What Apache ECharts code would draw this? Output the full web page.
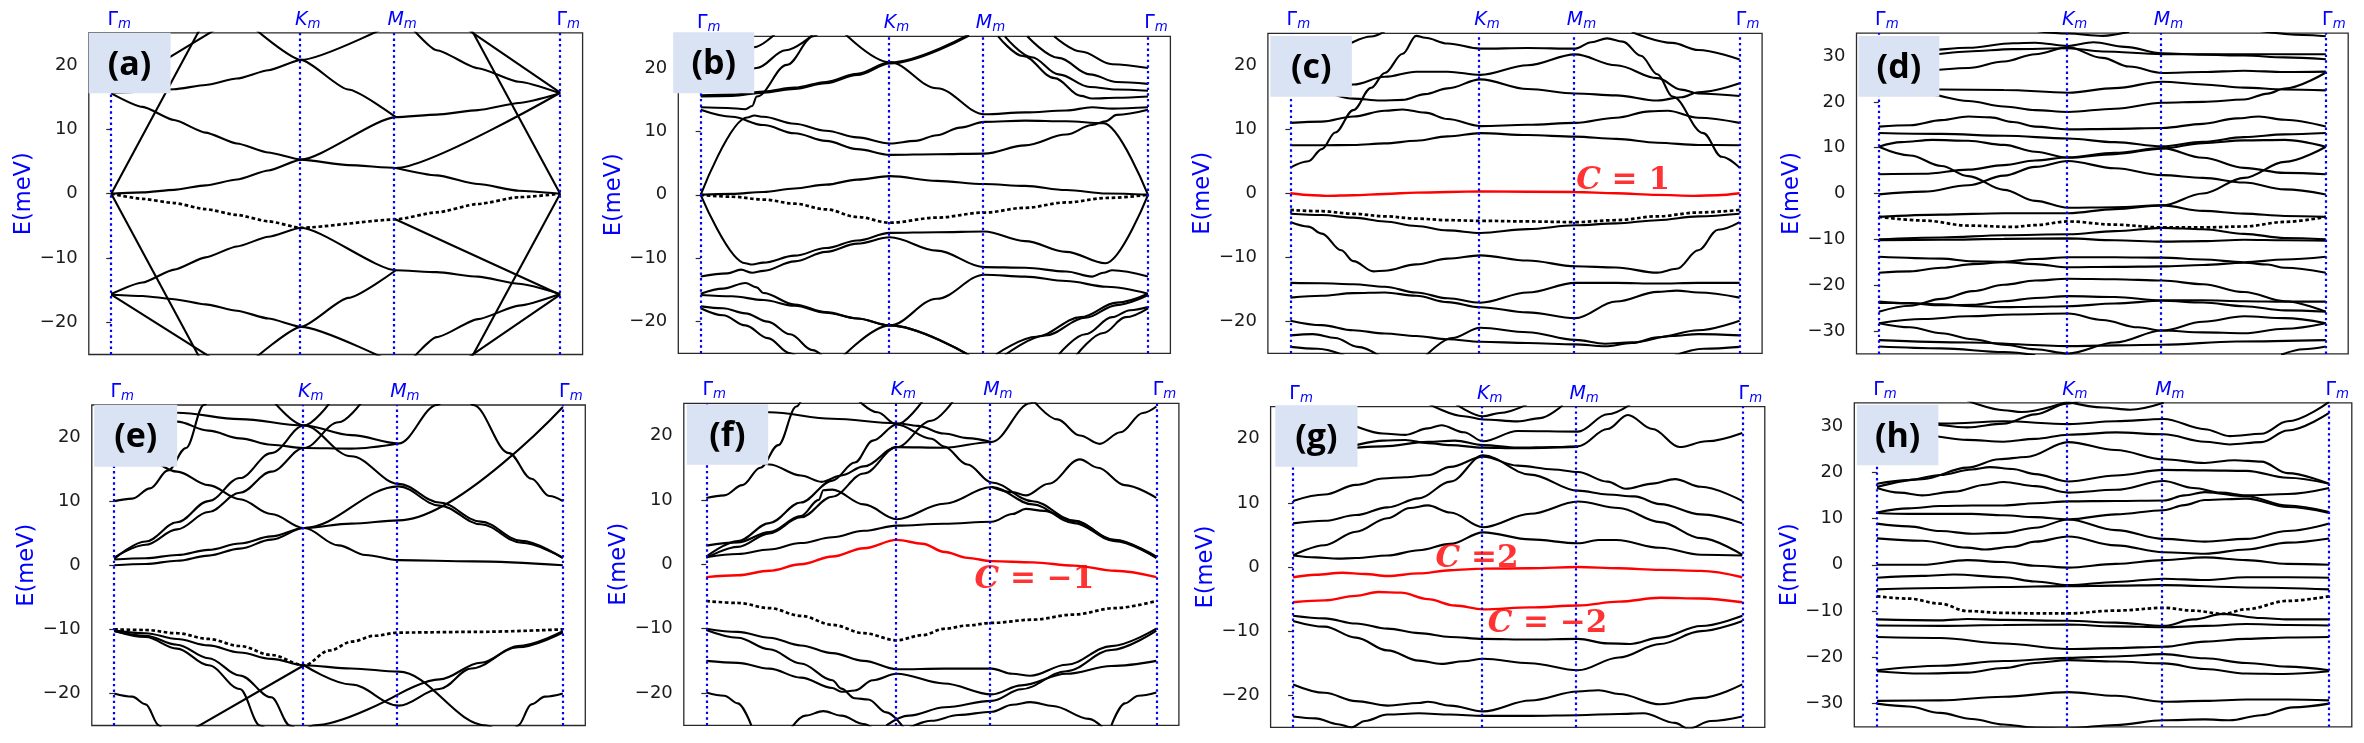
<!DOCTYPE html>
<html><head><meta charset="utf-8">
<script src="https://cdn.jsdelivr.net/npm/echarts@6/dist/echarts.min.js"></script>
<style>html,body{margin:0;padding:0;background:#fff}#c{width:2364px;height:743px}</style>
</head><body><div id="c"></div>
<script>
// ---------- high-symmetry path (normalized) ----------
const kPath = [{x:0,t:'Γ'},{x:0.4226,t:'K'},{x:0.634,t:'M'},{x:1,t:'Γ'}];
const panelLabels = ['(a)','(b)','(c)','(d)','(e)','(f)','(g)','(h)'];
const yTicks25 = [-20,-10,0,10,20];
const yTicks35 = [-30,-20,-10,0,10,20,30];
const yRanges = [25,25,25,35,25,25,25,35];

// ---------- panel (a) ----------
const bandsA = [
 [[0,0],[0.07,0.2],[0.14,0.6],[0.21,1.3],[0.28,2.2],[0.35,3.6],[0.423,5.3],[0.634,11.9],[0.725,12.3],[0.817,13.0],[0.908,14.1],[1,15.6]],
 [[0,15.6],[0.07,13.5],[0.14,11.45],[0.21,9.5],[0.28,7.8],[0.35,6.4],[0.423,5.3],[0.528,4.45],[0.634,4.0],[1,15.7]],
 [[0.634,4.0],[0.725,2.85],[0.817,1.5],[0.908,0.47],[1,0]],
 [[0,15.7],[0.07,15.85],[0.14,16.25],[0.21,16.9],[0.28,17.9],[0.35,19.2],[0.423,20.8],[0.65,27.2]],
 [[0.31,26.2],[0.423,20.8],[0.528,16.2],[0.634,11.9]],
 [[0,0],[0.22,28.5]],
 [[0,0],[0.22,-28.5]],
 [[0.78,28.4],[1,0]],
 [[0.78,-28.4],[1,0]],
 [[0,15.7],[0.25,26.3]],
 [[0.66,26.5],[0.725,22.3],[0.817,19.5],[0.908,17.4],[1,15.6]],
 [[0.78,26.2],[1,15.7]],
 [[0,-15.6],[0.07,-13.8],[0.14,-11.8],[0.21,-9.9],[0.28,-8.2],[0.35,-6.7],[0.423,-5.3],[0.634,-11.9],[0.725,-12.2],[0.817,-12.9],[0.908,-14.0],[1,-15.6]],
 [[0.634,-4.0],[1,-15.7]],
 [[0,-15.7],[0.07,-15.9],[0.14,-16.4],[0.21,-17.2],[0.28,-18.2],[0.35,-19.4],[0.423,-20.7],[0.65,-27]],
 [[0.31,-26.2],[0.423,-20.7],[0.528,-16.2],[0.634,-11.9]],
 [[0,-15.7],[0.25,-26.7]],
 [[0.66,-26.5],[0.725,-22.3],[0.817,-19.5],[0.908,-17.4],[1,-15.6]],
 [[0.78,-26.2],[1,-15.7]]
];
const dottedA = [[0,0],[0.07,-0.8],[0.14,-1.45],[0.21,-2.4],[0.28,-3.3],[0.35,-4.3],[0.423,-5.3],[0.634,-4.0],[0.725,-2.9],[0.817,-1.6],[0.908,-0.55],[1,0]];

// ---------- panel (b) ----------
const bandsB = [
 [[0,15.7],[0.07,15.8],[0.14,16.3],[0.21,16.9],[0.28,17.8],[0.35,19.1],[0.423,20.9],[0.6,25.3]],
 [[0,15.5],[0.07,15.6],[0.14,16.1],[0.21,16.7],[0.28,17.6],[0.35,18.9],[0.423,20.7],[0.6,25.1]],
 [[0.3,27],[0.423,20.9],[0.528,16.8],[0.634,12.7],[0.725,13.0],[0.817,13.3],[0.875,13.8],[0.92,13.6],[1,13.8]],
 [[0,0],[0.104,12.2],[0.12,12.5],[0.14,12.3],[0.21,11.2],[0.28,10.1],[0.35,9.05],[0.423,8.1],[0.48,8.5],[0.528,9.4],[0.58,10.6],[0.634,11.5],[0.725,11.7],[0.817,11.6],[0.9,11.3],[1,0]],
 [[0,13.4],[0.07,12.3],[0.14,11.0],[0.21,9.7],[0.28,8.5],[0.35,7.2],[0.423,6.3],[0.528,6.4],[0.634,6.5],[0.725,7.8],[0.817,9.5],[0.875,11.0],[0.905,11.6],[0.93,12.6],[1,13.4]],
 [[0,13.8],[0.06,13.7],[0.1,13.5],[0.115,14.0],[0.1255,15.5],[0.193,20.5],[0.252,25],[0.28,27]],
 [[0,19.5],[0.08,21.5],[0.12,23.3],[0.165,25.3]],
 [[0,17.8],[0.08,18.6],[0.125,20.0],[0.19,22.8],[0.25,25.2]],
 [[0.665,25],[0.72,21.9],[0.791,18.4],[0.85,15.6],[0.875,15.2],[0.93,15.3],[1,15.5]],
 [[0.68,25],[0.74,21.7],[0.8,19.0],[0.87,17.0],[0.93,16.6],[1,16.4]],
 [[0.73,25],[0.8,21.6],[0.87,19.0],[0.93,17.8],[1,17.5]],
 [[0.79,25],[0.85,22.6],[0.92,20.6],[1,20.0]],
 [[0,0],[0.07,0.15],[0.14,0.45],[0.21,1.0],[0.28,1.6],[0.35,2.4],[0.423,2.95],[0.528,2.2],[0.634,1.7],[0.725,1.4],[0.817,0.75],[0.908,0.2],[1,0]],
 [[0,0],[0.1,-10.8],[0.115,-11.0],[0.14,-10.7],[0.21,-9.6],[0.28,-8.4],[0.35,-7.2],[0.423,-6.0],[0.528,-5.9],[0.634,-5.8],[0.725,-7.3],[0.817,-9.0],[0.905,-10.8],[1,0]],
 [[0,-12.9],[0.06,-12.4],[0.09,-11.8],[0.115,-12.3],[0.14,-12.0],[0.21,-10.5],[0.28,-9.0],[0.35,-7.7],[0.423,-6.7],[0.528,-8.8],[0.634,-11.4],[0.725,-11.5],[0.817,-12.1],[0.875,-12.9],[0.9,-12.3],[0.92,-11.9],[1,-12.9]],
 [[0.3,-26.8],[0.423,-20.6],[0.528,-16.4],[0.634,-12.6],[0.725,-12.9],[0.817,-13.6],[0.908,-14.5],[1,-15.6]],
 [[0,-15.8],[0.07,-16.0],[0.14,-16.6],[0.21,-17.5],[0.28,-18.6],[0.35,-19.5],[0.423,-20.6],[0.6,-25.3]],
 [[0,-15.6],[0.05,-14.8],[0.1,-13.9],[0.125,-14.6],[0.14,-15.5],[0.21,-17.3],[0.28,-18.5],[0.35,-19.5],[0.423,-20.6],[0.6,-25.3]],
 [[0,-17.6],[0.05,-17.9],[0.1,-18.7],[0.15,-20.0],[0.2,-22.0],[0.25,-24.5],[0.28,-26]],
 [[0,-17.9],[0.05,-19.0],[0.1,-20.6],[0.15,-22.6],[0.2,-25.0],[0.23,-26.5]],
 [[0.66,-25.2],[0.75,-22.4],[0.85,-19.3],[0.93,-17.0],[1,-15.6]],
 [[0.68,-25.3],[0.77,-22.2],[0.86,-19.4],[0.93,-17.4],[1,-15.8]],
 [[0.8,-25.2],[0.86,-22.0],[0.92,-19.3],[0.96,-18.2],[1,-17.7]],
 [[0.84,-25.3],[0.9,-21.8],[0.95,-19.3],[1,-17.9]]
];
const dottedB = [[0,0],[0.07,-0.3],[0.14,-0.75],[0.21,-1.4],[0.28,-2.3],[0.35,-3.5],[0.423,-4.4],[0.528,-3.6],[0.634,-2.8],[0.725,-2.05],[0.817,-1.2],[0.908,-0.5],[1,0]];

// ---------- panel (c) ----------
const bandsC = [
 [[0,-3.2],[0.07,-3.4],[0.14,-3.8],[0.21,-4.4],[0.28,-5.1],[0.35,-5.8],[0.423,-6.2],[0.528,-5.6],[0.634,-5.0],[0.725,-4.7],[0.817,-4.2],[0.908,-3.6],[1,-3.2]],
 [[0,-4.5],[0.04,-5.2],[0.07,-6.3],[0.113,-8.9],[0.14,-10.6],[0.185,-12.2],[0.21,-12.1],[0.28,-11.1],[0.35,-10.2],[0.423,-9.7],[0.528,-10.5],[0.634,-11.4],[0.725,-11.6],[0.817,-12.4],[0.86,-11.8],[0.908,-8.9],[0.952,-5.7],[1,-4.5]],
 [[0,-14.0],[0.07,-14.05],[0.14,-14.2],[0.21,-14.6],[0.28,-15.5],[0.35,-16.4],[0.423,-17.1],[0.528,-15.5],[0.634,-14.0],[0.725,-14.0],[0.817,-14.1],[0.908,-14.0],[1,-14.0]],
 [[0,-16.3],[0.07,-16.0],[0.14,-15.6],[0.21,-15.5],[0.28,-16.0],[0.35,-17.0],[0.423,-17.8],[0.528,-18.6],[0.634,-19.5],[0.725,-16.9],[0.817,-15.4],[0.86,-15.2],[0.908,-15.5],[1,-16.3]],
 [[0,-19.9],[0.07,-20.6],[0.14,-21.4],[0.21,-21.9],[0.28,-22.3],[0.35,-22.8],[0.423,-23.2],[0.528,-23.4],[0.634,-23.6],[0.7,-23.9],[0.76,-23.4],[0.817,-22.5],[0.908,-21.4],[1,-19.9]],
 [[0.3,-25.5],[0.36,-22.6],[0.423,-21.0],[0.528,-21.7],[0.634,-22.9],[0.7,-23.5],[0.76,-23.3],[0.85,-22.3],[0.908,-22.0],[1,-22.2]],
 [[0,-22.2],[0.05,-22.0],[0.1,-22.6],[0.15,-24.0],[0.2,-25.5]],
 [[0,-24],[0.06,-24.3],[0.12,-25.3]],
 [[0.85,-25.5],[0.92,-24.3],[1,-24.0]],
 [[0,4.0],[0.04,5.0],[0.07,6.9],[0.1,9.5],[0.14,13.0],[0.18,16.5],[0.21,18.8],[0.25,21.8],[0.28,24.6],[0.3,24.3],[0.35,23.4],[0.423,22.6],[0.528,22.7],[0.634,22.6],[0.67,23.6],[0.705,24.2],[0.74,23.7],[0.78,21.5],[0.817,18.6],[0.851,15.1],[0.919,9.4],[0.96,5.7],[1,4.0]],
 [[0,7.5],[0.07,7.5],[0.14,7.55],[0.21,7.8],[0.28,8.2],[0.35,8.9],[0.423,9.4],[0.528,9.1],[0.634,8.85],[0.725,8.5],[0.817,7.9],[0.908,7.55],[1,7.5]],
 [[0,11],[0.07,11.2],[0.14,12.0],[0.21,12.9],[0.25,13.1],[0.3,12.6],[0.35,11.6],[0.423,10.5],[0.528,10.7],[0.634,11.0],[0.725,11.8],[0.8,12.8],[0.84,12.9],[0.908,11.8],[1,11.0]],
 [[0,16.0],[0.07,15.7],[0.14,14.8],[0.2,14.5],[0.25,14.6],[0.3,15.5],[0.35,16.4],[0.423,17.8],[0.528,16.3],[0.634,15.6],[0.725,15.3],[0.817,14.5],[0.87,15.0],[0.908,15.8],[1,17.2]],
 [[0,16.5],[0.07,16.6],[0.14,17.0],[0.21,18.2],[0.28,19.0],[0.35,19.0],[0.423,18.5],[0.528,20.0],[0.634,21.7],[0.725,20.0],[0.817,18.0],[0.87,16.2],[0.908,15.6],[1,15.2]],
 [[0,21.5],[0.1,22.8],[0.18,24.5],[0.21,25.3]],
 [[0.76,25.2],[0.85,23.5],[0.908,22.4],[1,20.9]]
];
const redC = [
 [[0,0],[0.05,-0.3],[0.08,-0.4],[0.14,-0.3],[0.21,-0.1],[0.28,0.1],[0.423,0.3],[0.634,0.2],[0.725,0.0],[0.817,-0.25],[0.9,-0.4],[0.95,-0.3],[1,0]]
];
const dottedC = [[0,-2.6],[0.07,-2.8],[0.14,-3.2],[0.21,-3.6],[0.28,-3.95],[0.35,-4.2],[0.423,-4.3],[0.528,-4.4],[0.634,-4.5],[0.725,-4.2],[0.817,-3.6],[0.908,-3.0],[1,-2.6]];

// ---------- panel (d) ----------
const bandsD = [
 [[0,26.6],[0.1,26.8],[0.2,27.4],[0.28,28.8],[0.35,30.4],[0.423,31.9],[0.5,29.6],[0.56,27.7],[0.634,26.3],[0.725,26.5],[0.817,26.8],[0.908,26.5],[1,26.6]],
 [[0,31.0],[0.1,31.2],[0.2,31.8],[0.3,32.8],[0.35,32.9],[0.423,32.2],[0.48,33.0],[0.55,32.0],[0.634,30.6],[0.725,30.3],[0.817,30.1],[0.908,29.7],[1,29.3]],
 [[0,29.5],[0.1,30.2],[0.2,31.0],[0.3,31.5],[0.423,31.7],[0.5,31.0],[0.634,30.4],[0.8,30.4],[1,30.4]],
 [[0.35,35.5],[0.423,34.9],[0.5,34.4],[0.56,35.3]],
 [[0.85,35.5],[0.95,34.6],[1,34.3]],
 [[0,22.7],[0.14,22.7],[0.28,22.6],[0.423,22.0],[0.528,23.0],[0.634,24.4],[0.725,23.8],[0.817,23.1],[0.908,22.7],[1,22.5]],
 [[0,22.5],[0.1,21.8],[0.2,20.2],[0.28,19.0],[0.35,18.2],[0.423,17.8],[0.528,18.5],[0.634,19.8],[0.725,20.0],[0.817,20.5],[0.87,21.8],[0.908,22.9],[1,26.4]],
 [[0,14.6],[0.07,14.9],[0.14,16.0],[0.2,16.8],[0.25,16.6],[0.3,15.6],[0.35,14.6],[0.423,14.0],[0.528,14.1],[0.634,14.3],[0.725,15.2],[0.8,16.4],[0.85,16.8],[0.908,16.1],[1,14.6]],
 [[0,13.2],[0.14,13.0],[0.28,12.6],[0.423,12.0],[0.528,11.2],[0.634,10.3],[0.725,11.3],[0.817,12.3],[0.908,12.9],[1,13.2]],
 [[0,10.2],[0.05,11.2],[0.12,11.7],[0.2,11.5],[0.28,10.6],[0.35,9.1],[0.423,7.8],[0.528,8.6],[0.634,9.8],[0.725,11.0],[0.817,11.6],[0.908,11.7],[1,10.2]],
 [[0,10.2],[0.07,8.3],[0.14,6.0],[0.2,3.8],[0.28,0.8],[0.35,-1.6],[0.423,-3.1],[0.528,-3.0],[0.634,-2.6],[0.725,0.0],[0.817,3.4],[0.908,6.9],[1,10.2]],
 [[0,4.2],[0.1,4.3],[0.2,5.2],[0.28,6.2],[0.35,7.2],[0.423,7.9],[0.528,8.9],[0.634,9.9],[0.725,7.8],[0.817,5.6],[0.908,4.5],[1,4.2]],
 [[0,-0.2],[0.1,0.4],[0.2,1.8],[0.28,3.9],[0.35,5.8],[0.423,7.1],[0.528,5.5],[0.634,4.0],[0.725,3.4],[0.817,2.4],[0.908,0.9],[1,-0.2]],
 [[0,-5.1],[0.14,-4.6],[0.28,-4.3],[0.423,-4.3],[0.528,-3.4],[0.634,-2.6],[0.725,-3.8],[0.817,-4.4],[0.908,-4.9],[1,-5.1]],
 [[0,-10.0],[0.14,-9.6],[0.28,-9.1],[0.423,-8.9],[0.528,-8.2],[0.634,-7.5],[0.725,-7.8],[0.817,-8.8],[0.908,-9.7],[1,-10.0]],
 [[0,-10.2],[0.14,-10.1],[0.28,-9.9],[0.423,-9.8],[0.528,-10.2],[0.634,-10.5],[0.725,-10.4],[0.817,-10.1],[0.908,-10.2],[1,-10.3]],
 [[0,-13.8],[0.14,-14.2],[0.21,-14.8],[0.28,-14.9],[0.35,-14.3],[0.423,-13.9],[0.528,-13.9],[0.634,-14.0],[0.725,-14.4],[0.817,-15.0],[0.908,-14.4],[1,-13.8]],
 [[0,-17.3],[0.07,-17.0],[0.14,-16.2],[0.21,-15.4],[0.28,-15.0],[0.35,-15.4],[0.423,-16.1],[0.528,-16.0],[0.634,-15.9],[0.725,-15.6],[0.817,-15.1],[0.87,-15.5],[0.908,-16.2],[1,-17.3]],
 [[0,-25.8],[0.07,-24.5],[0.14,-23.0],[0.21,-21.3],[0.28,-19.9],[0.35,-19.0],[0.423,-18.6],[0.528,-18.7],[0.634,-19.0],[0.725,-19.8],[0.817,-21.5],[0.908,-23.5],[1,-25.8]],
 [[0,-23.6],[0.07,-24.0],[0.14,-24.4],[0.21,-24.3],[0.28,-23.5],[0.35,-22.8],[0.423,-22.4],[0.528,-22.6],[0.634,-23.3],[0.725,-23.3],[0.817,-23.5],[0.908,-23.6],[1,-23.6]],
 [[0,-23.9],[0.07,-23.9],[0.14,-24.2],[0.21,-24.6],[0.28,-24.8],[0.35,-24.7],[0.423,-24.6],[0.528,-24.0],[0.634,-23.4],[0.725,-23.8],[0.817,-24.6],[0.908,-25.5],[1,-25.8]],
 [[0,-28.3],[0.1,-27.4],[0.2,-26.8],[0.3,-26.4],[0.423,-26.2],[0.5,-27.6],[0.58,-29.2],[0.634,-29.9],[0.725,-30.3],[0.817,-30.5],[0.908,-29.5],[1,-28.3]],
 [[0,-28.3],[0.07,-29.2],[0.14,-30.5],[0.21,-31.8],[0.28,-33.0],[0.35,-34.0],[0.423,-34.9],[0.528,-32.5],[0.634,-29.9],[0.725,-28.0],[0.817,-26.8],[0.908,-27.2],[1,-28.3]],
 [[0,-32.0],[0.2,-32.5],[0.423,-33.3],[0.634,-33.0],[0.8,-32.3],[1,-32.0]],
 [[0,-33.4],[0.14,-33.8],[0.28,-34.6],[0.35,-35.3]],
 [[0.9,-35.2],[0.95,-34.0],[1,-33.4]]
];
const dottedD = [[0,-5.1],[0.1,-5.9],[0.2,-7.0],[0.3,-7.3],[0.35,-6.9],[0.423,-6.1],[0.528,-6.8],[0.634,-7.4],[0.725,-7.4],[0.817,-7.2],[0.908,-6.2],[1,-5.1]];

// ---------- panel (e) ----------
const bandsE = [
 [[0,0],[0.07,0.2],[0.14,0.7],[0.21,1.5],[0.28,2.6],[0.35,4.0],[0.423,5.8],[0.5,3.1],[0.56,1.6],[0.634,0.8],[0.8,0.6],[1,0.0]],
 [[0,0.9],[0.07,1.1],[0.14,1.6],[0.21,2.4],[0.28,3.4],[0.35,4.5],[0.423,5.8],[0.528,6.5],[0.634,7.0],[1,24.7]],
 [[0,1.2],[0.07,3.2],[0.14,5.6],[0.21,8.3],[0.28,11.3],[0.35,14.6],[0.423,18.3],[0.5,22.3],[0.55,25.3]],
 [[0,1.0],[0.07,3.7],[0.14,6.7],[0.21,10.0],[0.28,13.6],[0.35,17.5],[0.423,21.8],[0.48,25.3]],
 [[0,18.0],[0.07,16.6],[0.14,14.6],[0.21,12.5],[0.28,10.3],[0.35,8.0],[0.423,5.8],[0.634,12.3],[0.725,9.3],[0.817,6.4],[0.908,3.5],[1,1.2]],
 [[0.35,26],[0.423,21.8],[0.528,17.0],[0.634,12.7],[0.725,9.8],[0.817,6.8],[0.908,3.8],[1,1.1]],
 [[0,24.4],[0.14,23.8],[0.28,22.8],[0.423,21.8],[0.528,20.3],[0.634,19.0],[0.72,25],[0.74,26.5]],
 [[0,24.6],[0.07,23.7],[0.14,22.4],[0.21,21.0],[0.28,19.8],[0.35,18.8],[0.423,18.3],[0.528,18.2],[0.634,19.0]],
 [[0,10],[0.04,10.4],[0.08,12.0],[0.12,14.8],[0.16,18.3],[0.2,25.0],[0.22,27]],
 [[0.78,27],[0.8,25],[0.88,17.5],[0.93,13.5],[0.97,10.8],[1,10]],
 [[0,-10.2],[0.07,-10.6],[0.14,-11.5],[0.21,-12.5],[0.28,-13.6],[0.35,-14.6],[0.423,-15.6],[0.528,-16.1],[0.634,-16.6],[0.83,-25],[0.86,-26.3]],
 [[0.423,-15.6],[0.528,-18.6],[0.634,-21.9],[0.725,-19.3],[0.796,-16.1],[0.9,-12.8],[1,-10.5]],
 [[0.634,-20.1],[0.725,-17.8],[0.817,-15.2],[0.9,-12.6],[1,-10.3]],
 [[0.17,-25.8],[0.423,-15.6]],
 [[0.42,-26.2],[0.443,-25],[0.634,-20.1]],
 [[0,-10.2],[0.07,-11.2],[0.14,-13.0],[0.21,-15.6],[0.28,-19.3],[0.325,-25],[0.35,-26.5]],
 [[0,-10.3],[0.07,-11.0],[0.14,-12.4],[0.21,-14.5],[0.28,-17.2],[0.35,-20.6],[0.392,-25],[0.42,-27]],
 [[0,-20],[0.04,-20.5],[0.07,-21.7],[0.1,-25],[0.11,-26]],
 [[0.89,-26],[0.9,-25],[0.93,-21.7],[0.96,-20.5],[1,-20.0]]
];
const dottedE = [[0,-10],[0.07,-10.1],[0.14,-10.6],[0.21,-11.5],[0.28,-12.6],[0.35,-14.0],[0.423,-15.6],[0.48,-13.3],[0.53,-11.9],[0.58,-11.0],[0.634,-10.5],[0.8,-10.4],[1,-10.0]];

// ---------- panel (f) ----------
const bandsF = [
 [[0,1.1],[0.07,1.6],[0.14,2.3],[0.21,3.3],[0.28,4.2],[0.35,5.2],[0.423,6.0],[0.528,6.3],[0.634,6.6],[0.68,7.8],[0.71,8.6],[0.75,8.3],[0.817,6.7],[0.908,3.8],[1,1.0]],
 [[0,2.9],[0.07,3.4],[0.14,5.0],[0.21,7.5],[0.25,10.0],[0.26,11.5],[0.28,11.6],[0.35,9.3],[0.423,7.0],[0.528,9.4],[0.634,12.0],[0.725,9.3],[0.817,6.4],[0.908,3.6],[1,1.0]],
 [[0,1.0],[0.07,2.7],[0.14,4.8],[0.21,7.3],[0.28,10.5],[0.35,14.1],[0.423,18.2],[0.5,22.3],[0.55,25.5]],
 [[0,1.2],[0.07,3.6],[0.14,6.4],[0.21,9.6],[0.28,13.0],[0.33,15.8],[0.37,19.2],[0.423,21.7],[0.48,25.3]],
 [[0,17.3],[0.07,17.0],[0.14,15.5],[0.21,13.8],[0.256,12.8],[0.3,13.8],[0.35,15.2],[0.423,18.2],[0.528,18.1],[0.634,19.0],[0.72,25],[0.74,26.5]],
 [[0,24.4],[0.14,23.6],[0.28,22.6],[0.423,21.9],[0.47,21.5],[0.528,20.3],[0.58,19.6],[0.634,19.0]],
 [[0.33,26],[0.38,23.6],[0.423,21.7],[0.5,19.5],[0.528,18.3],[0.58,15.5],[0.634,12.7],[0.725,9.8],[0.817,6.8],[0.908,3.7],[1,1.2]],
 [[0,10.3],[0.04,10.7],[0.08,12.3],[0.12,15.0],[0.16,18.5],[0.2,24.5],[0.22,27]],
 [[0.72,26],[0.78,22.5],[0.83,20.0],[0.874,18.7],[0.92,20.5],[0.97,23.5],[1,24.5]],
 [[0.634,12.0],[0.68,11.2],[0.71,10.7],[0.76,12.5],[0.83,16.3],[0.87,15.0],[0.93,12.3],[1,10.3]],
 [[0,-10.0],[0.07,-10.5],[0.14,-11.4],[0.21,-12.6],[0.28,-13.8],[0.35,-15.0],[0.423,-16.3],[0.528,-16.2],[0.634,-16.2],[0.68,-17.0],[0.72,-17.3],[0.8,-15.6],[0.9,-12.7],[1,-10.0]],
 [[0,-10.2],[0.07,-11.4],[0.14,-13.2],[0.21,-15.4],[0.28,-18.0],[0.3,-19.3],[0.33,-20.8],[0.36,-21.0],[0.4,-23.0],[0.44,-25.5]],
 [[0,-15.0],[0.07,-15.3],[0.14,-16.2],[0.21,-17.6],[0.28,-19.2],[0.3,-19.8],[0.33,-19.6],[0.37,-18.0],[0.423,-17.0],[0.528,-18.5],[0.634,-20.2],[0.7,-18.8],[0.8,-17.0],[0.9,-15.8],[1,-15.0]],
 [[0,-19.9],[0.04,-20.4],[0.07,-21.6],[0.1,-25]],
 [[0.9,-25],[0.93,-21.6],[0.96,-20.4],[1,-19.9]],
 [[0.19,-25.3],[0.22,-23.5],[0.26,-22.8],[0.3,-23.5],[0.35,-24.8],[0.37,-25.5]],
 [[0.44,-25.8],[0.5,-24.3],[0.56,-23.4],[0.634,-22.9],[0.68,-21.8],[0.72,-21.4],[0.77,-22.0],[0.85,-24.0],[0.88,-25.3]],
 [[0.4,-25],[0.45,-23.5],[0.53,-22.2],[0.634,-21.2],[0.7,-19.4],[0.8,-16.6],[0.9,-13.3],[1,-10.3]]
];
const redF = [
 [[0,-2.0],[0.07,-1.7],[0.14,-1.0],[0.21,0.0],[0.28,1.2],[0.35,2.5],[0.423,3.8],[0.48,3.2],[0.53,1.9],[0.58,1.0],[0.634,0.5],[0.725,0.3],[0.817,-0.2],[0.908,-1.0],[1,-2.0]]
];
const dottedF = [[0,-5.7],[0.07,-6.0],[0.14,-6.8],[0.21,-8.0],[0.28,-9.4],[0.35,-10.7],[0.423,-11.8],[0.48,-11.0],[0.53,-10.0],[0.58,-9.5],[0.634,-9.1],[0.725,-8.6],[0.817,-7.8],[0.908,-6.8],[1,-5.7]];

// ---------- panel (g) ----------
const bandsG = [
 [[0,-7.6],[0.07,-8.0],[0.14,-8.8],[0.21,-9.6],[0.28,-10.3],[0.35,-10.9],[0.423,-11.2],[0.528,-11.3],[0.634,-11.2],[0.7,-11.9],[0.75,-12.0],[0.817,-11.0],[0.908,-9.2],[1,-7.6]],
 [[0,-8.4],[0.07,-9.3],[0.14,-11.0],[0.21,-13.0],[0.28,-14.6],[0.33,-15.1],[0.38,-14.7],[0.423,-14.3],[0.528,-15.0],[0.634,-16.1],[0.725,-14.1],[0.817,-12.0],[0.908,-10.0],[1,-8.4]],
 [[0,-18.3],[0.07,-19.6],[0.14,-20.9],[0.21,-21.6],[0.28,-21.2],[0.3,-21.0],[0.35,-21.6],[0.423,-22.5],[0.528,-20.8],[0.634,-19.4],[0.68,-19.2],[0.725,-19.8],[0.817,-21.4],[0.908,-20.4],[1,-18.3]],
 [[0,-23.3],[0.05,-23.6],[0.1,-24.5],[0.13,-25.0],[0.16,-24.0],[0.21,-23.0],[0.28,-22.8],[0.35,-23.0],[0.423,-23.2],[0.528,-23.2],[0.634,-23.1],[0.725,-22.9],[0.78,-22.8],[0.85,-24.3],[0.88,-25.2],[0.93,-24.0],[1,-23.3]],
 [[0,1.8],[0.05,1.5],[0.1,1.3],[0.14,1.4],[0.21,1.8],[0.28,2.6],[0.35,3.6],[0.423,5.4],[0.528,4.3],[0.634,3.7],[0.68,4.2],[0.72,4.2],[0.817,3.0],[0.908,1.9],[1,1.8]],
 [[0,1.8],[0.07,3.4],[0.14,5.5],[0.21,7.6],[0.26,9.2],[0.3,9.6],[0.35,8.5],[0.423,6.2],[0.528,8.3],[0.634,10.2],[0.725,9.2],[0.817,7.0],[0.908,4.5],[1,1.9]],
 [[0,6.8],[0.07,7.2],[0.14,8.1],[0.21,9.3],[0.28,10.7],[0.35,13.3],[0.423,17.4],[0.528,14.4],[0.634,11.9],[0.7,11.3],[0.76,11.0],[0.817,9.8],[0.908,8.2],[1,6.8]],
 [[0,10.3],[0.07,11.3],[0.14,12.8],[0.2,13.8],[0.25,14.0],[0.3,14.3],[0.35,15.6],[0.423,17.2],[0.5,15.8],[0.58,15.2],[0.634,14.8],[0.7,13.3],[0.74,12.2],[0.8,13.0],[0.85,13.7],[0.908,12.5],[1,10.3]],
 [[0,18.5],[0.1,18.5],[0.2,18.8],[0.3,19.5],[0.36,19.7],[0.423,19.0],[0.5,18.6],[0.58,18.7],[0.634,18.8],[0.7,21.5],[0.745,23.7],[0.8,21.5],[0.86,18.7],[0.92,19.6],[1,20.9]],
 [[0,23.0],[0.1,22.5],[0.2,20.8],[0.25,20.6],[0.3,21.6],[0.33,22.1],[0.38,21.0],[0.423,19.6],[0.5,21.2],[0.634,21.1],[0.7,23.8],[0.75,25.3]],
 [[0,18.4],[0.1,18.6],[0.2,19.7],[0.25,19.8],[0.3,19.3],[0.35,19.0],[0.423,18.6],[0.5,18.5],[0.634,18.7]],
 [[0.3,25.5],[0.38,23.5],[0.423,23.0],[0.5,22.7],[0.55,23.2],[0.6,25.2]],
 [[0.36,25.5],[0.423,23.5],[0.46,24.0],[0.52,25.3]]
];
const redG = [
 [[0,-1.6],[0.05,-1.2],[0.11,-0.9],[0.16,-1.1],[0.21,-1.4],[0.28,-1.0],[0.35,-0.5],[0.423,-0.25],[0.528,-0.2],[0.634,0.0],[0.725,-0.2],[0.817,-0.45],[0.908,-0.6],[1,-1.6]],
 [[0,-5.5],[0.07,-5.2],[0.14,-4.5],[0.19,-3.9],[0.24,-4.0],[0.3,-5.0],[0.36,-6.0],[0.423,-6.6],[0.528,-6.3],[0.634,-6.0],[0.725,-5.4],[0.817,-4.8],[0.908,-4.9],[1,-5.5]]
];

// ---------- panel (h) ----------
const bandsH = [
 [[0,0],[0.1,0.0],[0.2,1.0],[0.28,0.6],[0.35,-0.2],[0.423,-0.6],[0.528,0.2],[0.634,1.0],[0.725,1.6],[0.817,1.0],[0.908,0.2],[1,0]],
 [[0,-2.8],[0.1,-2.4],[0.17,-2.1],[0.28,-2.7],[0.35,-3.6],[0.423,-4.4],[0.528,-3.7],[0.634,-3.0],[0.725,-3.3],[0.817,-2.7],[0.908,-2.7],[1,-2.8]],
 [[0,-5.3],[0.14,-5.0],[0.28,-4.8],[0.423,-4.6],[0.528,-4.5],[0.634,-4.4],[0.817,-4.9],[1,-5.3]],
 [[0,-11.8],[0.14,-12.0],[0.2,-11.7],[0.28,-11.9],[0.423,-12.1],[0.528,-12.5],[0.634,-13.2],[0.7,-11.8],[0.765,-10.6],[0.85,-11.5],[0.908,-11.8],[1,-11.8]],
 [[0,-13.1],[0.14,-13.2],[0.28,-13.0],[0.423,-12.9],[0.528,-13.3],[0.634,-13.5],[0.725,-13.2],[0.817,-12.8],[0.908,-13.0],[1,-13.1]],
 [[0,-15.6],[0.14,-15.8],[0.28,-17.0],[0.423,-18.2],[0.528,-18.0],[0.634,-17.7],[0.725,-16.6],[0.817,-16.0],[0.908,-15.7],[1,-15.6]],
 [[0,-22.8],[0.14,-21.8],[0.28,-20.8],[0.423,-20.1],[0.528,-19.8],[0.634,-19.3],[0.725,-20.2],[0.817,-21.2],[0.908,-22.0],[1,-22.8]],
 [[0,-23.0],[0.1,-23.5],[0.2,-23.3],[0.28,-22.3],[0.35,-21.2],[0.423,-20.6],[0.528,-20.9],[0.634,-21.3],[0.725,-22.5],[0.817,-23.5],[0.9,-23.6],[1,-23.0]],
 [[0,-29.4],[0.14,-29.3],[0.28,-28.5],[0.423,-27.5],[0.528,-28.3],[0.634,-29.6],[0.725,-29.4],[0.817,-29.1],[0.908,-29.1],[1,-29.3]],
 [[0,-30.0],[0.07,-30.6],[0.14,-32.0],[0.21,-33.3],[0.28,-34.5],[0.35,-35.2],[0.423,-35.3],[0.528,-34.6],[0.634,-33.6],[0.725,-33.4],[0.78,-33.6],[0.85,-32.5],[0.92,-30.8],[1,-30.0]],
 [[0,5.7],[0.1,5.2],[0.2,3.7],[0.24,3.3],[0.3,3.9],[0.35,5.0],[0.423,6.1],[0.528,4.2],[0.634,2.7],[0.725,2.4],[0.817,3.3],[0.908,4.8],[1,5.7]],
 [[0,8.9],[0.07,8.3],[0.14,7.3],[0.21,6.7],[0.28,6.9],[0.35,8.0],[0.423,9.8],[0.528,7.5],[0.634,5.6],[0.725,5.0],[0.817,5.6],[0.908,7.3],[1,8.9]],
 [[0,11.3],[0.07,12.2],[0.14,12.7],[0.21,12.8],[0.28,12.8],[0.35,13.3],[0.423,13.7],[0.528,13.8],[0.634,13.9],[0.68,15.0],[0.725,15.7],[0.817,14.8],[0.908,12.8],[1,11.4]],
 [[0,11.2],[0.07,11.0],[0.14,11.0],[0.21,11.0],[0.28,10.7],[0.35,10.3],[0.423,9.8],[0.528,10.9],[0.634,11.8],[0.68,12.9],[0.725,14.0],[0.817,14.3],[0.908,12.5],[1,11.2]],
 [[0,16.6],[0.05,15.6],[0.1,15.0],[0.17,15.8],[0.24,17.3],[0.28,17.9],[0.35,17.0],[0.423,15.6],[0.528,16.2],[0.634,18.1],[0.7,16.6],[0.76,15.6],[0.817,15.0],[0.908,15.3],[1,16.6]],
 [[0,17.5],[0.07,18.3],[0.14,19.4],[0.21,20.6],[0.25,21.1],[0.3,20.7],[0.35,19.6],[0.423,18.0],[0.528,19.3],[0.634,20.5],[0.725,20.4],[0.817,20.3],[0.908,18.8],[1,17.5]],
 [[0,16.8],[0.1,18.5],[0.2,21.0],[0.27,22.8],[0.33,23.3],[0.423,26.5],[0.528,24.8],[0.634,22.8],[0.725,22.0],[0.79,22.6],[0.85,22.3],[0.908,19.8],[1,17.5]],
 [[0,31.5],[0.1,30.5],[0.2,29.7],[0.28,30.5],[0.35,32.5],[0.42,34.8],[0.45,35.5]],
 [[0,28.5],[0.1,28.0],[0.2,27.0],[0.28,26.6],[0.35,27.2],[0.423,28.1],[0.528,28.6],[0.634,28.2],[0.725,26.6],[0.78,26.0],[0.85,26.5],[0.908,29.0],[1,32.8]],
 [[0,33],[0.15,30.5],[0.28,31.0],[0.423,30.4],[0.528,31.0],[0.634,31.5],[0.725,29.3],[0.78,27.8],[0.85,28.3],[0.908,31.0],[1,35.2]],
 [[0.2,35.5],[0.28,33.4],[0.32,33.0],[0.423,35.3]],
 [[0.423,35.2],[0.5,34.0],[0.56,33.5],[0.634,35.0]]
];
const dottedH = [[0,-6.8],[0.07,-7.3],[0.14,-8.4],[0.2,-10.0],[0.28,-10.4],[0.35,-10.5],[0.423,-10.5],[0.528,-9.9],[0.634,-9.3],[0.7,-9.9],[0.765,-10.6],[0.817,-9.6],[0.908,-7.8],[1,-6.8]];

// ---------- Chern-number annotations (data coords) ----------
const annotations = [
 {panel:2, x:0.635, y:1.9, main:'C', rest:' = 1'},
 {panel:5, x:0.595, y:-2.5, main:'C', rest:' = \u22121'},
 {panel:6, x:0.316, y:1.3, main:'C', rest:' =2'},
 {panel:6, x:0.432, y:-8.85, main:'C', rest:' = \u22122'}
];

const solidSets = [bandsA,bandsB,bandsC,bandsD,bandsE,bandsF,bandsG,bandsH];
const dottedSets = [dottedA,dottedB,dottedC,dottedD,dottedE,dottedF,null,dottedH];
const redSets = [[],[],redC,[],[],redF,redG,[]];

// ---------- layout (pixels) ----------
const layout = [
 {l:88.8,  t:32.9,  w:493.8, h:321.6, box:[88.6,32.7,82,60.6]},
 {l:678.3, t:36.3,  w:492.1, h:317,   box:[673.2,32.3,81,61]},
 {l:1267.9,t:33.3,  w:494.2, h:320,   box:[1270.4,36,81.5,60.7]},
 {l:1856.5,t:33.1,  w:491.7, h:320.8, box:[1858.4,36,81,60.7]},
 {l:91.8,  t:405,   w:493.5, h:320.5, box:[94.2,404.7,83,62]},
 {l:683.8, t:403.3, w:495.1, h:322,   box:[686.7,404.3,81.5,60.4]},
 {l:1270.6,t:406.6, w:494.2, h:320.8, box:[1275.3,405.3,82.2,61.4]},
 {l:1854.3,t:402.8, w:497.5, h:324,   box:[1856.9,404.7,81.5,60.6]}
];

const chart = echarts.init(document.getElementById('c'), null, {renderer:'canvas'});
const grid=[], xAxis=[], yAxis=[], series=[], graphic=[];
const fmtY = v => v < 0 ? '\u2212' + (-v) : String(v);

layout.forEach((L,i)=>{
  const yr = yRanges[i];
  const ticks = yr === 35 ? yTicks35 : yTicks25;
  grid.push({left:L.l, top:L.t, width:L.w, height:L.h, show:true, borderColor:'#2a2a2a', borderWidth:1.3, backgroundColor:'rgba(0,0,0,0)'});
  xAxis.push({gridIndex:i, type:'value', min:-0.05, max:1.05, show:false});
  yAxis.push({gridIndex:i, type:'value', min:-yr, max:yr,
    name:'E(meV)', nameLocation:'middle', nameGap:53,
    nameTextStyle:{color:'#0000ff', fontSize:22.5, fontFamily:'DejaVu Sans'},
    axisLine:{show:false}, splitLine:{show:false},
    axisTick:{show:true, length:5, customValues:ticks, lineStyle:{color:'#2a2a2a', width:1.2}},
    axisLabel:{show:true, customValues:ticks, margin:11, fontSize:18, color:'#1a1a1a', fontFamily:'DejaVu Sans', formatter:fmtY}
  });
  const sm = (i===0) ? 0.2 : 0.35;
  solidSets[i].forEach(line=>{
    series.push({type:'line', xAxisIndex:i, yAxisIndex:i, data:line, showSymbol:false, symbol:'none',
      smooth:sm, smoothMonotone:'x', silent:true, animation:false, z:2,
      lineStyle:{color:'#000', width:2.1}});
  });
  if (dottedSets[i]) {
    series.push({type:'line', xAxisIndex:i, yAxisIndex:i, data:dottedSets[i], showSymbol:false, symbol:'none',
      smooth:sm, smoothMonotone:'x', silent:true, animation:false, z:2,
      lineStyle:{color:'#000', width:2.7, type:[3.6,2.6]}});
  }
  redSets[i].forEach(line=>{
    series.push({type:'line', xAxisIndex:i, yAxisIndex:i, data:line, showSymbol:false, symbol:'none',
      smooth:0.35, smoothMonotone:'x', silent:true, animation:false, z:3,
      lineStyle:{color:'#ff0000', width:2.4}});
  });
  // high-symmetry vertical lines + top labels
  series.push({type:'line', xAxisIndex:i, yAxisIndex:i, data:[[-1,0]], showSymbol:false, symbol:'none', silent:true, animation:false, z:5,
    lineStyle:{opacity:0},
    markLine:{symbol:'none', silent:true, animation:false,
      lineStyle:{color:'#0000ff', width:2.2, type:[2.4,3.2]},
      label:{show:true, position:'end', distance:2, padding:[0,0,0,16],
        formatter: p => (p.name==='Γ' ? '{g|Γ}' : '{i|'+p.name+'}') + '{s|m}',
        rich:{
          g:{fontFamily:'DejaVu Sans', fontSize:19, color:'#0000ff', lineHeight:22},
          i:{fontFamily:'DejaVu Sans', fontStyle:'italic', fontSize:19, color:'#0000ff', lineHeight:22},
          s:{fontFamily:'DejaVu Sans', fontStyle:'italic', fontSize:13.3, color:'#0000ff', lineHeight:12, verticalAlign:'bottom'}
        }},
      data: kPath.map(k=>({xAxis:k.x, name:k.t}))
    }});
  // panel label box
  const b = L.box;
  graphic.push({type:'rect', z:100, shape:{x:b[0], y:b[1], width:b[2], height:b[3]}, style:{fill:'#dae3f3'}});
  graphic.push({type:'text', z:101, x:b[0]+b[2]/2, y:b[1]+b[3]/2+2,
    style:{text:panelLabels[i], fill:'#000', font:'bold 34px "Open Sans"', fontFamily:'Open Sans', fontWeight:'bold', fontSize:34,
      align:'center', verticalAlign:'middle', textAlign:'center', textVerticalAlign:'middle'}});
});

annotations.forEach(a=>{
  series.push({type:'scatter', xAxisIndex:a.panel, yAxisIndex:a.panel, data:[[a.x,a.y]], symbolSize:1, silent:true, animation:false, z:10,
    itemStyle:{color:'rgba(0,0,0,0)'},
    label:{show:true, position:'right', distance:0,
      formatter:'{c|'+a.main+'}{t|'+a.rest+'}',
      rich:{
        c:{fontFamily:'DejaVu Serif', fontWeight:'bold', fontStyle:'italic', fontSize:31, color:'#ff0000'},
        t:{fontFamily:'DejaVu Serif', fontWeight:'bold', fontSize:31, color:'#ff0000'}
      }}});
});

chart.setOption({backgroundColor:'#ffffff', animation:false, grid, xAxis, yAxis, series, graphic:{elements:graphic}});
</script></body></html>
